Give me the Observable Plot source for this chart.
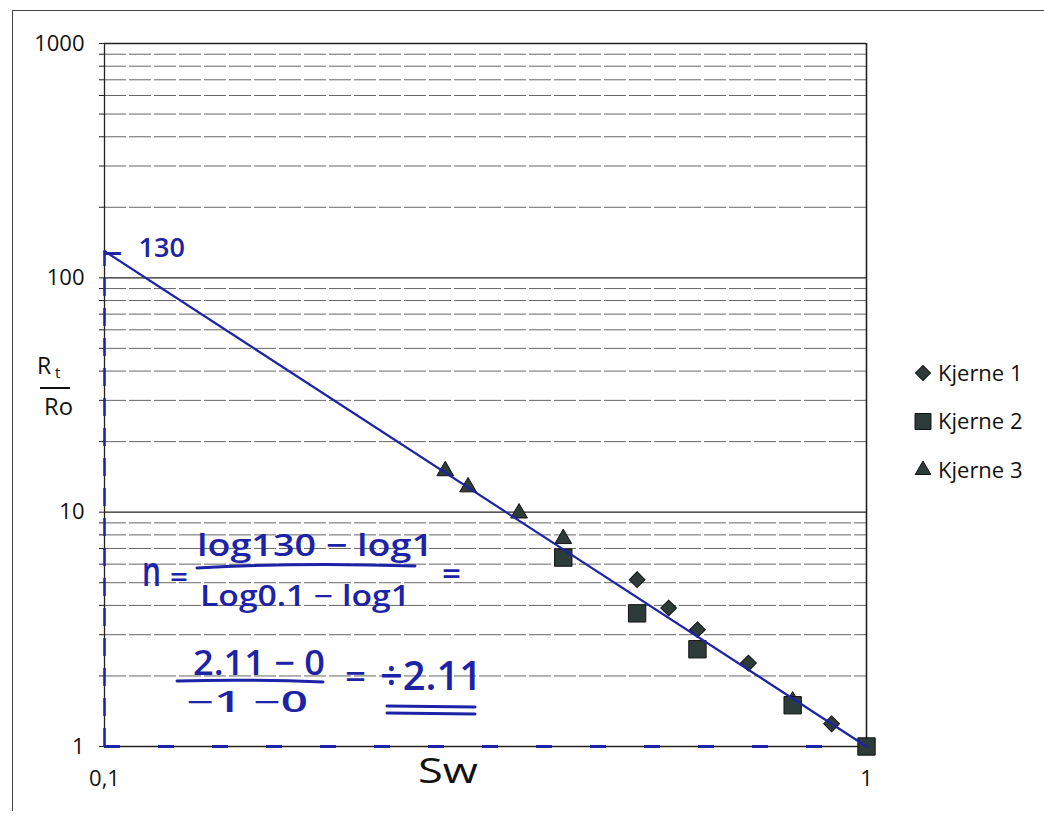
<!DOCTYPE html>
<html>
<head>
<meta charset="utf-8">
<script src="https://cdn.jsdelivr.net/npm/d3@7"></script>
<script src="https://cdn.jsdelivr.net/npm/@observablehq/plot@0.6"></script>
<style>
  body { margin: 0; background: #fff; }
  #wrap { position: relative; width: 1044px; height: 821px; overflow: hidden; font-family: "Open Sans", sans-serif; background:#fff; }
  #frame { position: absolute; left: 12px; top: 10px; width: 1040px; height: 800px; border-top: 1.5px solid #444; border-left: 1.5px solid #444; pointer-events:none; }
  #chart { position: absolute; left: 0; top: 0; }
  #overlay { position: absolute; left: 0; top: 0; pointer-events: none; }
  .hand { fill: #1c23a6; font-family: "Open Sans", sans-serif; font-weight: 600; }
  .handk { fill: #111; font-family: "Open Sans", sans-serif; font-weight: 400; }
</style>
</head>
<body>
<div id="wrap">
  <div id="frame"></div>
  <div id="chart"></div>
  <svg id="overlay" width="1044" height="821"></svg>
</div>
<script>
// ---------- data ----------
const seriesNames = ["Kjerne 1", "Kjerne 2", "Kjerne 3"];
const k1Sw    = [0.5, 0.55, 0.6, 0.7, 0.9, 1];
const k1RtRo  = [5.15, 3.9, 3.15, 2.27, 1.25, 1];
const k2Sw    = [0.4, 0.5, 0.6, 0.8, 1];
const k2RtRo  = [6.4, 3.7, 2.6, 1.5, 1];
const k3Sw    = [0.28, 0.3, 0.35, 0.4, 0.8, 1];
const k3RtRo  = [15, 12.8, 9.9, 7.7, 1.56, 1];
const fitSw   = [0.1, 1];
const fitRtRo = [130, 1];
const xTicks = [0.1, 1];
const xTickLabels = ["0,1", "1"];
const yTicks = [1, 10, 100, 1000];
const yTickLabels = ["1", "10", "100", "1000"];
const fitLabel = "130";

// ---------- derived tables ----------
const toRows = (xs, ys, s) => xs.map((x, i) => ({Sw: x, RtRo: ys[i], series: s}));
const k1 = toRows(k1Sw, k1RtRo, seriesNames[0]);
const k2 = toRows(k2Sw, k2RtRo, seriesNames[1]);
const k3 = toRows(k3Sw, k3RtRo, seriesNames[2]);
const fit = toRows(fitSw, fitRtRo, "fit");
const allY = [];
for (let d = 0; d < 3; d++) for (let m = 1; m <= 9; m++) allY.push(m * Math.pow(10, d));
allY.push(1000);
const minorY = allY.filter(v => !yTicks.includes(v));
const majorY = yTicks.filter(v => v > 1 && v < 1000);

const markFill = "#2d3b39";
const blue = "#1c23a6";

const chart = Plot.plot({
  width: 1044,
  height: 821,
  marginLeft: 104,
  marginRight: 178,
  marginTop: 43,
  marginBottom: 75,
  style: { fontFamily: "Open Sans", fontSize: "22px", color: "#111", background: "transparent", overflow: "visible" },
  x: { type: "log", domain: [0.1, 1], label: null },
  y: { type: "log", domain: [1, 1000], label: null },
  marks: [
    Plot.ruleY(minorY, { stroke: "#666", strokeWidth: 1, strokeDasharray: "22,3" }),
    Plot.ruleY(majorY, { stroke: "#222", strokeWidth: 1.3 }),
    Plot.ruleY([1000], { stroke: "#222", strokeWidth: 1.5 }),
    Plot.ruleY([1], { stroke: "#222", strokeWidth: 1.3 }),
    Plot.ruleX([0.1], { stroke: "#222", strokeWidth: 1.3 }),
    Plot.ruleX([1], { stroke: "#222", strokeWidth: 1.6 }),
    Plot.axisY({
      ticks: allY, tickSize: 5, tickPadding: 15, stroke: "#222", label: null,
      tickFormat: d => { const i = yTicks.indexOf(d); return i >= 0 ? yTickLabels[i] : ""; }
    }),
    Plot.axisX({
      ticks: xTicks, tickSize: 0, tickPadding: 24, label: null,
      tickFormat: d => xTickLabels[xTicks.indexOf(d)]
    }),
    // hand-drawn blue dashes along the axes
    Plot.ruleX([fitSw[0]], { y1: fitRtRo[1], y2: fitRtRo[0], stroke: blue, strokeWidth: 2.5, strokeDasharray: "18,12" }),
    Plot.ruleY([fitRtRo[1]], { x1: fitSw[0], x2: fitSw[1], stroke: blue, strokeWidth: 3, strokeDasharray: "16,38" }),
    // data points
    Plot.dot(k3, { x: "Sw", y: "RtRo", symbol: "triangle", r: 6.2, fill: markFill, stroke: "#111", strokeWidth: 1 }),
    Plot.dot(k1, { x: "Sw", y: "RtRo", symbol: "square", rotate: 45, r: 6.3, fill: markFill, stroke: "#111", strokeWidth: 1 }),
    Plot.dot(k2, { x: "Sw", y: "RtRo", symbol: "square", r: 9.8, fill: markFill, stroke: "#111", strokeWidth: 1 }),
    // fitted line
    Plot.line(fit, { x: "Sw", y: "RtRo", stroke: blue, strokeWidth: 2.2 }),
    // 130 annotation
    Plot.text([fit[0]], { x: "Sw", y: "RtRo", text: () => "–", textAnchor: "start", dx: -2, fontSize: 40, fill: blue, fontWeight: 500 }),
    Plot.text([fit[0]], { x: "Sw", y: "RtRo", text: () => fitLabel, textAnchor: "start", dx: 34, dy: -3, fontSize: 27, fill: blue, fontWeight: 600 })
  ]
});
document.getElementById("chart").appendChild(chart);

// ---------- overlay: legend + handwritten notes ----------
const ov = d3.select("#overlay");
const legendSymbols = [
  { sym: d3.symbolSquare, rot: 45, size: Math.PI * 6 * 6 },
  { sym: d3.symbolSquare, rot: 0, size: Math.PI * 9 * 9 },
  { sym: d3.symbolTriangle, rot: 0, size: Math.PI * 5.8 * 5.8 }
];
seriesNames.forEach((name, i) => {
  const cy = 373 + i * 48.5;
  ov.append("path")
    .attr("d", d3.symbol(legendSymbols[i].sym, legendSymbols[i].size)())
    .attr("transform", `translate(923,${cy}) rotate(${legendSymbols[i].rot})`)
    .attr("fill", markFill).attr("stroke", "#111").attr("stroke-width", 1);
  ov.append("text").attr("x", 938).attr("y", cy + 7.5)
    .attr("font-size", 22).attr("fill", "#111").attr("font-family", "Open Sans")
    .text(name);
});

const hand = [
  // [text, x, baseline, fontSize, textLength]
  ["n", 142, 586, 42, 19],
  ["=", 170, 587, 28, 18],
  ["log130 − log1", 197, 556, 30, 236],
  ["Log0.1 − log1", 200, 606, 28, 210],
  ["=", 442, 585, 30, 19],
  ["2.11 − 0", 193, 675, 34, 132],
  ["−1  −0", 187, 712, 28, 121],
  ["=", 345, 688, 32, 21],
  ["÷2.11", 380, 690, 40, 102]
];
hand.forEach(([t, x, y, fs, tl]) => {
  ov.append("text").attr("class", "hand").attr("x", x).attr("y", y)
    .attr("font-size", fs).attr("textLength", tl).attr("lengthAdjust", "spacingAndGlyphs").text(t);
});
const bars = [
  "M197,568 Q300,562 415,566",
  "M177,681 Q250,679 323,682",
  "M387,706 L475,707",
  "M387,713 L475,714"
];
bars.forEach(d => ov.append("path").attr("d", d).attr("fill", "none").attr("stroke", blue).attr("stroke-width", 3).attr("stroke-linecap", "round"));

// y-label Rt / Ro and x-label Sw (handwritten black)
ov.append("text").attr("class", "handk").attr("x", 37).attr("y", 374).attr("font-size", 23).text("R");
ov.append("text").attr("class", "handk").attr("x", 55).attr("y", 378).attr("font-size", 15).text("t");
ov.append("path").attr("d", "M40,388 L70,388").attr("stroke", "#111").attr("stroke-width", 2);
ov.append("text").attr("class", "handk").attr("x", 44).attr("y", 415).attr("font-size", 23).attr("textLength", 29).attr("lengthAdjust", "spacingAndGlyphs").text("Ro");
ov.append("text").attr("class", "handk").attr("x", 418).attr("y", 783).attr("font-size", 34).attr("textLength", 60).attr("lengthAdjust", "spacingAndGlyphs").text("Sw");
</script>
</body>
</html>
